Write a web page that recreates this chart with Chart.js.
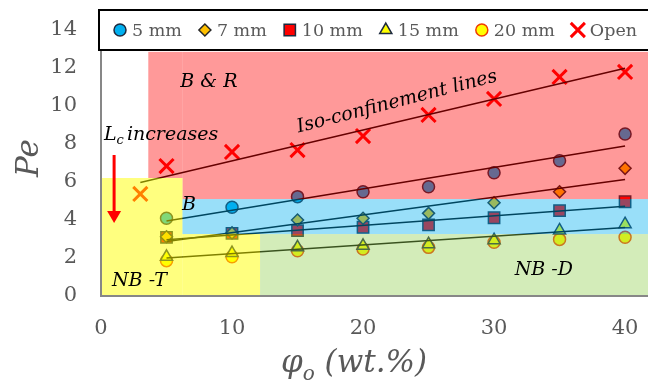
<!DOCTYPE html>
<html>
<head>
<meta charset="utf-8">
<script src="https://cdn.jsdelivr.net/npm/chart.js@4.4.1/dist/chart.umd.min.js"></script>
<style>
  html, body { margin: 0; padding: 0; background: #fff; }
  #frame { width: 648px; height: 382px; overflow: hidden; }
  #wrap { width: 661px; height: 382px; position: relative; }
</style>
</head>
<body>
<div id="frame"><div id="wrap"><canvas id="pe"></canvas></div></div>
<script>
// phi_o (wt.%) and Peclet numbers per confinement gap
const phiOpen = [3, 5, 10, 15, 20, 25, 30, 35, 40]
const phi = [5, 10, 15, 20, 25, 30, 35, 40]
const pe5mm  = [4.09, 4.67, 5.23, 5.49, 5.75, 6.49, 7.12, 8.53]
const pe7mm  = [3.12, 3.32, 4.00, 4.09, 4.35, 4.91, 5.49, 6.72]
const pe10mm = [3.09, 3.30, 3.44, 3.62, 3.74, 4.12, 4.49, 4.96]
const pe15mm = [2.06, 2.26, 2.56, 2.64, 2.73, 2.94, 3.45, 3.78]
const pe20mm = [1.86, 2.07, 2.38, 2.47, 2.56, 2.83, 2.98, 3.09]
const peOpen = [5.37, 6.84, 7.58, 7.68, 8.42, 9.53, 10.37, 11.53, 11.79]
const seriesLabels = ['5 mm', '7 mm', '10 mm', '15 mm', '20 mm', 'Open']
const xTicks = [0, 10, 20, 30, 40]
const yTicks = [0, 2, 4, 6, 8, 10, 12, 14]
// regime zones (phi from..to, Pe from..to); null = right edge of the axis
const zones = [
    {kind: 'BR', x0: 3.61, x1: 6.22, y0: 6.21, y1: 12.85},
    {kind: 'BR', x0: 6.22, x1: null, y0: 5.1, y1: 12.85},
    {kind: 'NBT', x0: 0, x1: 6.22, y0: 0, y1: 6.21},
    {kind: 'NBT', x0: 6.22, x1: 12.14, y0: 0, y1: 3.26},
    {kind: 'B', x0: 6.22, x1: null, y0: 3.26, y1: 5.1},
    {kind: 'NBD', x0: 12.14, x1: null, y0: 0, y1: 3.26},
]

const zoneColors = {
    BR: 'rgba(255,0,0,0.4)',
    NBT: 'rgba(255,255,0,0.5)',
    B: 'rgba(0,176,240,0.4)',
    NBD: 'rgba(146,208,80,0.4)',
}
const grey = '#595959'

function points(xs, ys){
    return xs.map((x, i) => ({x: x, y: ys[i]}))
}

// least squares trend line, drawn between first and last x of the series
function trend(xs, ys){
    const n = xs.length
    const mx = xs.reduce((a, b) => a + b, 0) / n
    const my = ys.reduce((a, b) => a + b, 0) / n
    let sxy = 0, sxx = 0
    for(let i = 0; i < n; i++){
        sxy += (xs[i] - mx) * (ys[i] - my)
        sxx += (xs[i] - mx) * (xs[i] - mx)
    }
    const b = sxy / sxx
    const a = my - b * mx
    return [{x: xs[0], y: a + b * xs[0]}, {x: xs[n - 1], y: a + b * xs[n - 1]}]
}

const markerSets = [
    {label: seriesLabels[0], data: points(phi, pe5mm), pointStyle: 'circle', pointRadius: 6,
     backgroundColor: '#00b0f0', borderColor: '#1d2a3f', borderWidth: 1.5},
    {label: seriesLabels[1], data: points(phi, pe7mm), pointStyle: 'rectRot', pointRadius: 6,
     backgroundColor: '#ffc000', borderColor: '#262626', borderWidth: 1.5},
    {label: seriesLabels[2], data: points(phi, pe10mm), pointStyle: 'rect', pointRadius: 8,
     backgroundColor: '#ff0000', borderColor: '#1d2a3f', borderWidth: 1.5},
    {label: seriesLabels[3], data: points(phi, pe15mm), pointStyle: 'triangle', pointRadius: 7,
     backgroundColor: '#ffff00', borderColor: '#1d2a3f', borderWidth: 1.5},
    {label: seriesLabels[4], data: points(phi, pe20mm), pointStyle: 'circle', pointRadius: 6,
     backgroundColor: '#ffff00', borderColor: '#f03c00', borderWidth: 1.5},
    {label: seriesLabels[5], data: points(phiOpen, peOpen), pointStyle: 'crossRot', pointRadius: 10,
     backgroundColor: '#ff0000', borderColor: '#ff0000', borderWidth: 3},
].map(d => Object.assign(d, {order: 1, pointHoverRadius: d.pointRadius}))

const trendSets = [
    trend(phi, pe5mm), trend(phi, pe7mm), trend(phi, pe10mm), trend(phi, pe15mm), trend(phiOpen, peOpen)
].map(line => ({
    label: '', data: line, showLine: true, pointRadius: 0, borderColor: '#000', borderWidth: 1.5, order: 0
}))

const regimePlugin = {
    id: 'regimes',
    afterDatasetsDraw(chart){
        const {ctx, chartArea: area, scales: {x, y}} = chart
        ctx.save()
        ctx.beginPath()
        ctx.rect(area.left, area.top, area.right - area.left, area.bottom - area.top)
        ctx.clip()
        for(const z of zones){
            const left = x.getPixelForValue(z.x0)
            const right = z.x1 === null ? area.right : x.getPixelForValue(z.x1)
            const top = y.getPixelForValue(z.y1)
            const bottom = y.getPixelForValue(z.y0)
            ctx.fillStyle = zoneColors[z.kind]
            ctx.fillRect(left, top, right - left, bottom - top)
        }
        ctx.restore()

        // axis lines
        ctx.save()
        ctx.strokeStyle = '#878787'
        ctx.lineWidth = 2
        ctx.beginPath()
        ctx.moveTo(area.left, 50)
        ctx.lineTo(area.left, area.bottom)
        ctx.lineTo(area.right, area.bottom)
        ctx.stroke()
        ctx.restore()

        // regime labels
        ctx.save()
        ctx.fillStyle = '#000'
        ctx.font = 'italic 19px "DejaVu Serif"'
        ctx.textAlign = 'center'
        ctx.textBaseline = 'middle'
        const notes = [
            ['B & R', 8.24, 11.26],
            ['B', 6.72, 4.76],
            ['NB -T', 2.94, 0.79],
            ['NB -D', 33.8, 1.37],
        ]
        for(const [t, vx, vy] of notes){
            ctx.fillText(t, x.getPixelForValue(vx), y.getPixelForValue(vy))
        }
        ctx.save()
        ctx.translate(x.getPixelForValue(22.6), y.getPixelForValue(10.21))
        ctx.rotate(-14.5 * Math.PI / 180)
        ctx.fillText('Iso-confinement lines', 0, 0)
        ctx.restore()

        // L_c increases
        ctx.textAlign = 'left'
        ctx.textBaseline = 'alphabetic'
        let lx = 104
        const ly = 140
        ctx.fillText('L', lx, ly)
        lx += ctx.measureText('L').width
        ctx.font = 'italic 13px "DejaVu Serif"'
        ctx.fillText('c', lx, ly + 4)
        lx += ctx.measureText('c').width + 3
        ctx.font = 'italic 19px "DejaVu Serif"'
        ctx.fillText('increases', lx, ly)

        // arrow
        const ax = x.getPixelForValue(1.0)
        const aTop = y.getPixelForValue(7.42)
        const aTip = y.getPixelForValue(3.84)
        ctx.strokeStyle = '#ff0000'
        ctx.fillStyle = '#ff0000'
        ctx.lineWidth = 3
        ctx.beginPath()
        ctx.moveTo(ax, aTop)
        ctx.lineTo(ax, aTip - 10)
        ctx.stroke()
        ctx.beginPath()
        ctx.moveTo(ax - 7, aTip - 12)
        ctx.lineTo(ax + 7, aTip - 12)
        ctx.lineTo(ax, aTip)
        ctx.closePath()
        ctx.fill()
        ctx.restore()
    },
    afterDraw(chart){
        const {ctx} = chart
        ctx.save()
        // axis titles
        ctx.fillStyle = grey
        ctx.font = 'italic 31px "DejaVu Serif"'
        ctx.textAlign = 'center'
        ctx.save()
        ctx.translate(38, 158)
        ctx.rotate(-Math.PI / 2)
        ctx.fillText('Pe', 0, 0)
        ctx.restore()
        ctx.textAlign = 'left'
        let tx = 281
        ctx.fillText('φ', tx, 372)
        tx += ctx.measureText('φ').width
        ctx.font = 'italic 20px "DejaVu Serif"'
        ctx.fillText('o', tx, 380)
        tx += ctx.measureText('o').width
        ctx.font = 'italic 31px "DejaVu Serif"'
        ctx.fillText(' (wt.%)', tx, 372)

        // legend box over the top of the plot
        ctx.fillStyle = '#fff'
        ctx.fillRect(99, 10, 570, 40)
        ctx.strokeStyle = '#000'
        ctx.lineWidth = 2
        ctx.strokeRect(99, 10, 570, 40)
        ctx.font = '17.5px "DejaVu Serif"'
        ctx.textBaseline = 'middle'
        let mx = 120
        for(const d of markerSets){
            ctx.fillStyle = d.backgroundColor
            ctx.strokeStyle = d.borderColor
            ctx.lineWidth = d.borderWidth
            Chart.helpers.drawPoint(ctx, {pointStyle: d.pointStyle, radius: d.pointRadius, rotation: 0, borderWidth: d.borderWidth}, mx, 30)
            ctx.fillStyle = grey
            ctx.fillText(d.label, mx + 12, 31)
            mx += 12 + ctx.measureText(d.label).width + 23
        }
        ctx.restore()
    }
}

new Chart(document.getElementById('pe'), {
    type: 'scatter',
    data: {datasets: [...markerSets, ...trendSets]},
    options: {
        responsive: true,
        maintainAspectRatio: false,
        animation: false,
        layout: {padding: {top: 30, right: 0, bottom: 0, left: 0}},
        plugins: {
            legend: {display: false},
            tooltip: {enabled: false},
        },
        scales: {
            x: {
                type: 'linear',
                min: 0,
                max: 41.75,
                afterBuildTicks: scale => { scale.ticks = xTicks.map(v => ({value: v})) },
                afterFit: scale => { scale.height = 86 },
                grid: {display: false, drawTicks: false},
                border: {display: false},
                ticks: {color: grey, padding: 20, font: {family: 'DejaVu Serif', size: 21}},
            },
            y: {
                type: 'linear',
                min: 0,
                max: 14,
                afterBuildTicks: scale => { scale.ticks = yTicks.map(v => ({value: v})) },
                afterFit: scale => { scale.width = 101; scale.paddingTop = 0; scale.paddingBottom = 0 },
                grid: {display: false, drawTicks: false},
                border: {display: false},
                ticks: {color: grey, padding: 24, font: {family: 'DejaVu Serif', size: 21}},
            },
        },
    },
    plugins: [regimePlugin],
})
</script>
</body>
</html>
